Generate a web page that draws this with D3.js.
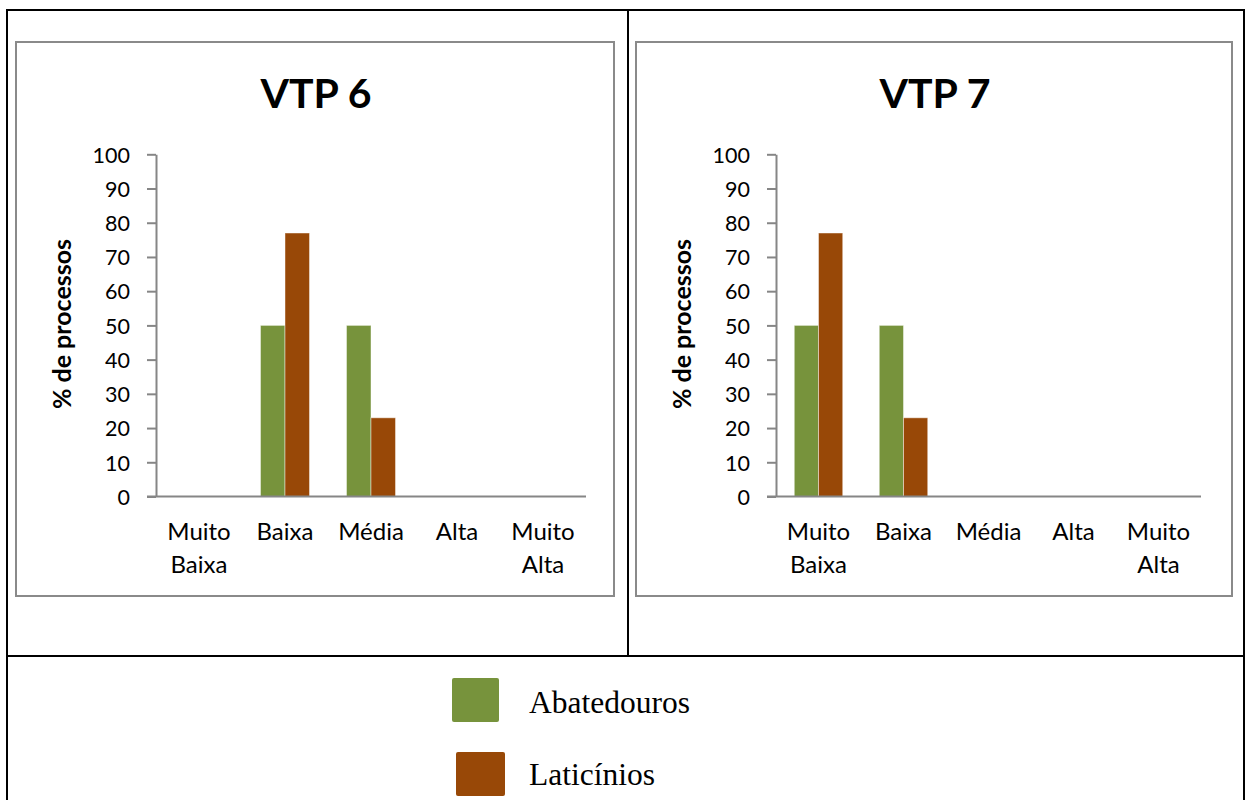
<!DOCTYPE html>
<html>
<head>
<meta charset="utf-8">
<script src="https://cdn.jsdelivr.net/npm/d3@7"></script>
<style>
  html, body { margin: 0; padding: 0; background: #fff; }
  svg { display: block; }
</style>
</head>
<body>
<svg id="fig" width="1249" height="800"></svg>
<script>
// Categories of the x axis (two-line labels)
const categories = ["Muito Baixa", "Baixa", "Média", "Alta", "Muito Alta"];
const categoryLines = [["Muito", "Baixa"], ["Baixa"], ["Média"], ["Alta"], ["Muito", "Alta"]];
const seriesNames = ["Abatedouros", "Laticínios"];
const seriesColors = ["#77933C", "#984807"];
const yTicks = [0, 10, 20, 30, 40, 50, 60, 70, 80, 90, 100];

// % de processos per category
const vtp6Abatedouros = [0, 50, 50, 0, 0];
const vtp6Laticinios  = [0, 77, 23, 0, 0];
const vtp7Abatedouros = [50, 50, 0, 0, 0];
const vtp7Laticinios  = [77, 23, 0, 0, 0];

const panels = [
  { title: "VTP 6", values: [vtp6Abatedouros, vtp6Laticinios],
    frame: [16, 42, 614, 596], plotX: [156, 586] },
  { title: "VTP 7", values: [vtp7Abatedouros, vtp7Laticinios],
    frame: [636, 42, 1232, 596], plotX: [776, 1201] }
];

const svg = d3.select("#fig");
const sansFont = "Lato, 'Open Sans', sans-serif";
const serifFont = "'Liberation Serif', 'DejaVu Serif', serif";
const axisGray = "#868686";

// Outer table grid
const grid = svg.append("g").attr("stroke", "#000").attr("stroke-width", 2).attr("fill", "none");
grid.append("rect").attr("x", 7).attr("y", 10).attr("width", 1237).attr("height", 800);
grid.append("line").attr("x1", 628).attr("x2", 628).attr("y1", 10).attr("y2", 656);
grid.append("line").attr("x1", 7).attr("x2", 1244).attr("y1", 656).attr("y2", 656);

const y = d3.scaleLinear().domain([0, 100]).range([496.5, 154.3]);

panels.forEach(p => {
  const g = svg.append("g");
  const [fx0, fy0, fx1, fy1] = p.frame;

  g.append("rect")
    .attr("x", fx0).attr("y", fy0)
    .attr("width", fx1 - fx0).attr("height", fy1 - fy0)
    .attr("fill", "#fff").attr("stroke", "#8a8a8a").attr("stroke-width", 2);

  g.append("text")
    .attr("x", (fx0 + fx1) / 2 + 1).attr("y", 108)
    .attr("text-anchor", "middle")
    .attr("font-family", sansFont).attr("font-weight", "bold")
    .attr("font-size", 41).attr("fill", "#000")
    .text(p.title);

  const x = d3.scaleBand().domain(categories).range(p.plotX)
    .paddingInner(0.43).paddingOuter(0.215);
  const xs = d3.scaleBand().domain(seriesNames).range([0, x.bandwidth()]).padding(0);

  // y axis
  const yAxis = d3.axisLeft(y).tickValues(yTicks).tickSize(9).tickSizeOuter(0).tickPadding(17);
  const ya = g.append("g").attr("transform", `translate(${p.plotX[0]},0)`).call(yAxis);
  ya.select(".domain").attr("stroke", axisGray).attr("stroke-width", 2);
  ya.selectAll(".tick line").attr("stroke", axisGray).attr("stroke-width", 2);
  ya.selectAll(".tick text")
    .attr("font-family", sansFont).attr("font-size", 21.5).attr("fill", "#000")
    .attr("dy", "0.36em");

  // bars
  seriesNames.forEach((s, si) => {
    g.append("g").selectAll("rect")
      .data(p.values[si].map((v, i) => ({ cat: categories[i], v })).filter(d => d.v > 0))
      .join("rect")
      .attr("x", d => x(d.cat) + xs(s))
      .attr("y", d => y(d.v))
      .attr("width", xs.bandwidth())
      .attr("height", d => y(0) - y(d.v))
      .attr("fill", seriesColors[si])
      .attr("stroke", "rgba(255,255,255,0.45)")
      .attr("stroke-width", 1);
  });

  // x axis line
  g.append("line")
    .attr("x1", p.plotX[0] - 9).attr("x2", p.plotX[1])
    .attr("y1", y(0)).attr("y2", y(0))
    .attr("stroke", axisGray).attr("stroke-width", 2);

  // category labels
  categories.forEach((c, i) => {
    const cx = x(c) + x.bandwidth() / 2;
    const t = g.append("text")
      .attr("x", cx).attr("y", 539.5)
      .attr("text-anchor", "middle")
      .attr("font-family", sansFont).attr("font-size", 24).attr("fill", "#000");
    categoryLines[i].forEach((ln, li) => {
      t.append("tspan").attr("x", cx)
        .attr("dy", li === 0 ? 0 : 33).text(ln);
    });
  });

  // y axis title
  g.append("text")
    .attr("transform", `translate(${p.plotX[0] - 85},${324}) rotate(-90)`)
    .attr("text-anchor", "middle")
    .attr("font-family", sansFont).attr("font-weight", "bold")
    .attr("font-size", 25).attr("fill", "#000")
    .text("% de processos");
});

// Legend
const legendRows = [
  { box: [452, 678, 47, 44], ty: 713 },
  { box: [456, 752, 49, 44], ty: 785 }
];
seriesNames.forEach((s, i) => {
  const r = legendRows[i];
  svg.append("rect")
    .attr("x", r.box[0]).attr("y", r.box[1])
    .attr("width", r.box[2]).attr("height", r.box[3])
    .attr("rx", 2).attr("fill", seriesColors[i]);
  svg.append("text")
    .attr("x", 529).attr("y", r.ty)
    .attr("font-family", serifFont).attr("font-size", 31.5).attr("fill", "#000")
    .text(s);
});
</script>
</body>
</html>
